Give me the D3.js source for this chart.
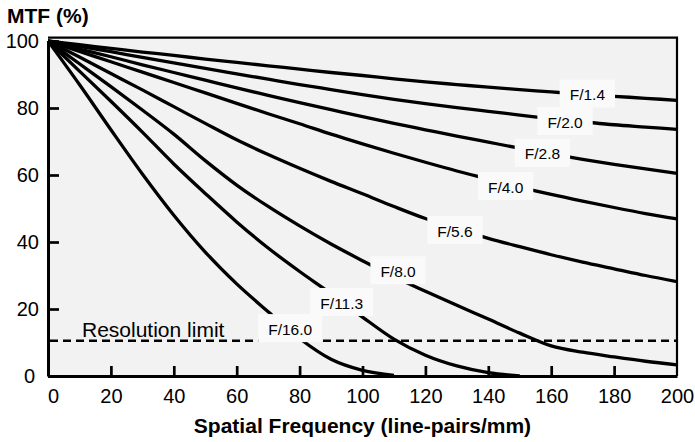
<!DOCTYPE html>
<html>
<head>
<meta charset="utf-8">
<script src="https://cdn.jsdelivr.net/npm/d3@7"></script>
<style>
  body { margin: 0; background: #fff; }
  svg { display: block; font-family: "Liberation Sans", Arial, sans-serif; }
</style>
</head>
<body>
<svg id="chart" width="695" height="442"></svg>
<script>
// spatial frequency grid (line-pairs/mm)
var freq = [0, 10, 20, 30, 40, 50, 60, 70, 80, 90, 100, 110, 120, 130, 140, 150, 160, 170, 180, 190, 200];

// MTF (%), one array per aperture
var mtf_f14  = [100, 98.9, 97.8, 96.7, 95.7, 94.6, 93.6, 92.6, 91.6, 90.6, 89.7, 88.7, 87.8, 87.0, 86.2, 85.5, 84.8, 84.1, 83.5, 82.9, 82.3];
var mtf_f20  = [100, 98.4, 96.8, 95.1, 93.5, 91.8, 90.2, 88.6, 87.0, 85.5, 84.0, 82.6, 81.3, 80.1, 79.0, 77.9, 76.8, 75.9, 75.0, 74.3, 73.6];
var mtf_f28  = [100, 97.6, 95.3, 92.9, 90.6, 88.3, 86.0, 83.8, 81.6, 79.5, 77.4, 75.4, 73.5, 71.6, 69.8, 68.0, 66.3, 64.7, 63.2, 61.8, 60.5];
var mtf_f40  = [100, 96.9, 93.8, 90.7, 87.6, 84.5, 81.4, 78.3, 75.3, 72.2, 69.3, 66.5, 63.8, 61.2, 58.8, 56.4, 54.2, 52.2, 50.3, 48.5, 46.9];
var mtf_f56  = [100, 95.2, 90.3, 85.4, 80.4, 75.4, 70.5, 66.1, 62.0, 58.1, 54.4, 50.6, 47.0, 43.9, 41.1, 38.6, 36.2, 34.0, 32.0, 30.0, 28.2];
var mtf_f80  = [100, 93.2, 86.4, 79.4, 72.2, 64.3, 57.0, 50.6, 44.8, 39.4, 34.4, 29.6, 25.3, 21.1, 17.0, 12.8, 9.0, 7.1, 5.7, 4.4, 3.3];
var mtf_f113 = [100, 91.0, 82.0, 72.8, 63.3, 54.5, 46.0, 38.2, 31.2, 24.6, 17.6, 11.0, 6.2, 3.0, 1.0, 0, null, null, null, null, null];
var mtf_f160 = [100, 87.0, 73.5, 60.3, 48.0, 37.0, 27.5, 19.2, 11.2, 5.0, 1.7, 0.2, null, null, null, null, null, null, null, null, null];

var apertures = ["F/1.4", "F/2.0", "F/2.8", "F/4.0", "F/5.6", "F/8.0", "F/11.3", "F/16.0"];
var series = [mtf_f14, mtf_f20, mtf_f28, mtf_f40, mtf_f56, mtf_f80, mtf_f113, mtf_f160];

// where each aperture label sits, in data units [freq, mtf]
var labelAt = [[171.5, 84], [164.4, 75.8], [157.2, 66.3], [145.5, 56.4], [129.4, 43.3], [111.3, 31.3], [93.4, 21.8], [77, 14]];

var resolutionLimit = 10.5;
var xTicks = [0, 20, 40, 60, 80, 100, 120, 140, 160, 180, 200];
var yTicks = [0, 20, 40, 60, 80, 100];

var svg = d3.select("#chart");
var plotLeft = 48, plotRight = 677, plotBottom = 376, plotTop = 41;

var x = d3.scaleLinear().domain([0, 200]).range([plotLeft, plotRight]);
var y = d3.scaleLinear().domain([0, 100]).range([plotBottom, plotTop]);

// plot background
svg.append("rect")
    .attr("x", plotLeft).attr("y", y(101))
    .attr("width", plotRight - plotLeft).attr("height", plotBottom - y(101))
    .attr("fill", "#f2f2f2");

// resolution limit
svg.append("line")
    .attr("x1", x(0) + 2).attr("x2", x(200))
    .attr("y1", y(resolutionLimit)).attr("y2", y(resolutionLimit))
    .attr("stroke", "#000").attr("stroke-width", 2.5)
    .attr("stroke-dasharray", "8,5");

svg.append("text")
    .attr("x", 82).attr("y", y(resolutionLimit) - 4)
    .attr("font-size", 21)
    .text("Resolution limit");

// curves
var line = d3.line()
    .defined(function(d) { return d != null; })
    .x(function(d, i) { return x(freq[i]); })
    .y(function(d) { return y(d); })
    .curve(d3.curveMonotoneX);

svg.append("g")
  .selectAll("path")
  .data(series)
  .enter().append("path")
    .attr("d", line)
    .attr("fill", "none")
    .attr("stroke", "#000")
    .attr("stroke-width", 3.3);

// aperture labels with light boxes
var labels = svg.append("g")
  .selectAll("g")
  .data(apertures)
  .enter().append("g")
    .attr("transform", function(d, i) { return "translate(" + x(labelAt[i][0]) + "," + y(labelAt[i][1]) + ")"; });

labels.append("rect").attr("fill", "#fafafa");
labels.append("text")
    .attr("text-anchor", "middle")
    .attr("dy", "0.36em")
    .attr("font-size", 15.5)
    .text(function(d) { return d; });

labels.each(function() {
  var g = d3.select(this);
  var w = g.select("text").node().getComputedTextLength();
  g.select("rect")
    .attr("x", -w / 2 - 10).attr("y", -15)
    .attr("width", w + 20).attr("height", 28);
});

// top and right frame
svg.append("path")
    .attr("d", "M" + plotLeft + "," + y(101) + "H" + plotRight + "V" + plotBottom)
    .attr("fill", "none")
    .attr("stroke", "#000")
    .attr("stroke-width", 2.2);

// axes, ticks pointing inward
var xAxis = svg.append("g")
    .attr("transform", "translate(0," + plotBottom + ")")
    .call(d3.axisBottom(x).tickValues(xTicks).tickSizeInner(-10).tickSizeOuter(0).tickPadding(13));

var yAxis = svg.append("g")
    .attr("transform", "translate(" + plotLeft + ",0)")
    .call(d3.axisLeft(y).tickValues(yTicks).tickSizeInner(-11).tickSizeOuter(0).tickPadding(9));

[xAxis, yAxis].forEach(function(a) {
  a.select(".domain").attr("stroke", "#000").attr("stroke-width", 3);
  a.selectAll(".tick line").attr("stroke", "#000").attr("stroke-width", 2.7);
  a.selectAll(".tick text").attr("fill", "#000").attr("font-size", 20)
    .attr("font-family", "Liberation Sans, Arial, sans-serif");
});

xAxis.selectAll(".tick text").attr("dy", "0.71em");
xAxis.selectAll(".tick").filter(function(d) { return d === 0; }).select("text").attr("dx", 5);
xAxis.selectAll(".tick").filter(function(d) { return d === 200; }).select("line").remove();
yAxis.selectAll(".tick").filter(function(d) { return d === 0; }).select("text").attr("dx", -4);

// axis titles
svg.append("text")
    .attr("x", 7).attr("y", 23)
    .attr("font-size", 21).attr("font-weight", "bold")
    .text("MTF (%)");

svg.append("text")
    .attr("x", (plotLeft + plotRight) / 2).attr("y", 433)
    .attr("text-anchor", "middle")
    .attr("font-size", 21).attr("font-weight", "bold")
    .text("Spatial Frequency (line-pairs/mm)");
</script>
</body>
</html>
